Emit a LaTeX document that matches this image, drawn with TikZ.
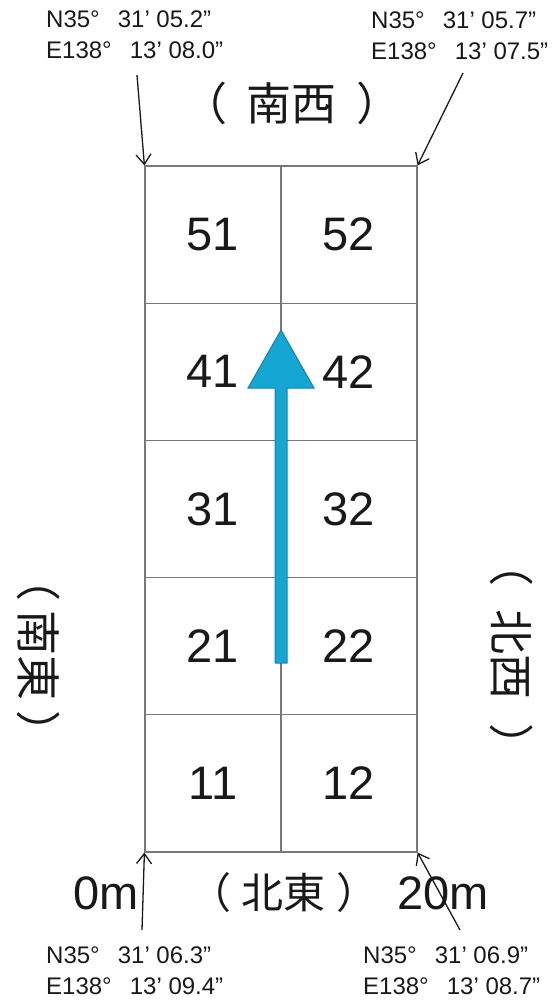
\documentclass[tikz,border=0pt]{standalone}
\usepackage{fontspec}
\setmainfont{Liberation Sans}
\newfontfamily\cjkfont{Noto Sans CJK JP}
\usetikzlibrary{arrows.meta}
\definecolor{gridgray}{RGB}{120,120,120}
\definecolor{arrowfill}{RGB}{22,166,212}
\definecolor{arrowedge}{RGB}{24,130,172}
\definecolor{inkcol}{RGB}{25,25,25}
\tikzset{
  cell/.style={draw=gridgray, line width=1.2pt, minimum width=136pt, minimum height=137.2pt,
    inner sep=0pt, text=inkcol, font=\fontsize{47}{47}\selectfont},
  coordlabel/.style={inner sep=0pt, anchor=west, align=left, text=inkcol,
    font=\fontsize{24}{31}\selectfont},
  bigtext/.style={inner sep=0pt, text=inkcol, font=\fontsize{47}{47}\selectfont},
  dirlabel/.style={inner sep=0pt, text=inkcol, font=\cjkfont\fontsize{45}{45}\selectfont},
  pointer/.style={draw=inkcol, line width=1.3pt, -{Straight Barb[length=10pt,width=15pt,line width=1.3pt]}},
}
\newcommand{\dg}{°\hspace{0.75em}}
\begin{document}
\begin{tikzpicture}[x=1pt,y=-1pt]
\useasboundingbox (0,0) rectangle (555,1002);
% grid cells
\foreach \r [count=\i from 0] in {5,4,3,2,1}{
  \node[cell] (c\r1) at (213,{234.6+137.2*\i}) {\r1};
  \node[cell] (c\r2) at (349,{234.6+137.2*\i}) {\r2};
}
% blue direction arrow
\filldraw[fill=arrowfill, draw=arrowedge, line width=1pt]
  (275,663) -- (275,388) -- (248,388) -- (281,330) -- (314,388) -- (287,388) -- (287,663) -- cycle;
% direction labels
\node[dirlabel] (south-west) at (292,103) {（\hspace{20pt}南西\hspace{20pt}）};
\node[dirlabel, font=\cjkfont\fontsize{42}{42}\selectfont] (north-east) at (284,893) {（\hspace{11pt}北東\hspace{11pt}）};
\node[dirlabel, rotate=-90] (south-east) at (39,656) {（\hspace{10pt}南東\hspace{10pt}）};
\node[dirlabel, rotate=-90] (north-west) at (512,655) {（\hspace{24pt}北西\hspace{24pt}）};
% distance labels
\node[bigtext, anchor=east] (zero) at (139,893) {0m};
\node[bigtext, anchor=west] (twenty) at (397,893) {20m};
% coordinate labels
\node[coordlabel] (tl) at (46,34.6) {N35\dg 31’ 05.2”\\E138\dg 13’ 08.0”};
\node[coordlabel] (tr) at (371,35.5) {N35\dg 31’ 05.7”\\E138\dg 13’ 07.5”};
\node[coordlabel] (bl) at (46,971) {N35\dg 31’ 06.3”\\E138\dg 13’ 09.4”};
\node[coordlabel] (br) at (363,971) {N35\dg 31’ 06.9”\\E138\dg 13’ 08.7”};
% pointer arrows
\coordinate (tlstart) at (137,75);
\coordinate (trstart) at (463,73);
\coordinate (blstart) at (142,930);
\coordinate (brstart) at (460,930);
\draw[pointer] (tlstart) -- (c51.north west);
\draw[pointer] (trstart) -- (c52.north east);
\draw[pointer] (blstart) -- (c11.south west);
\draw[pointer] (brstart) -- (c12.south east);
\end{tikzpicture}
\end{document}
